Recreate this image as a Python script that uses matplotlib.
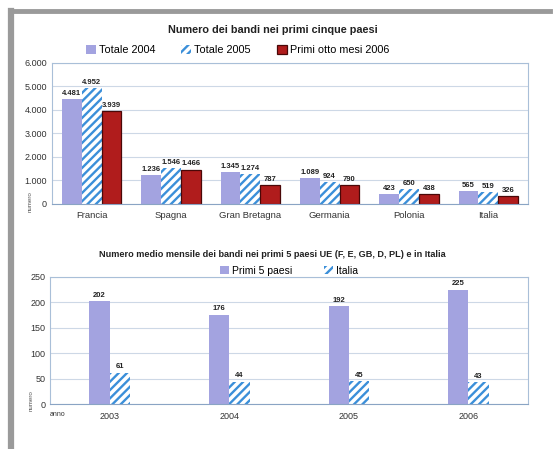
import matplotlib
matplotlib.use("Agg")
import matplotlib.pyplot as plt
from matplotlib.lines import Line2D
from matplotlib.ticker import FuncFormatter
import numpy as np

plt.rcParams["font.family"] = ["Liberation Sans", "DejaVu Sans"]
plt.rcParams["hatch.linewidth"] = 1.7

# ---------- data ----------
paesi = ["Francia", "Spagna", "Gran Bretagna", "Germania", "Polonia", "Italia"]
tot_2004 = [4481, 1236, 1345, 1089, 423, 565]
tot_2005 = [4952, 1546, 1274, 924, 650, 519]
otto_mesi_2006 = [3939, 1466, 787, 790, 438, 326]

anni = ["2003", "2004", "2005", "2006"]
primi_5 = [202, 176, 192, 225]
italia = [61, 44, 45, 43]

LAV = "#a3a3e0"
BLUE = "#3b8fd9"
RED = "#b01c1c"
GRID = "#cdd8e6"
BOX = "#a9bfd8"


def ita(v, _pos=None):
    return f"{v:,.0f}".replace(",", ".")


def style_axes(ax):
    ax.set_facecolor("white")
    ax.yaxis.grid(True, color=GRID, linewidth=0.8)
    ax.set_axisbelow(True)
    for s in ax.spines.values():
        s.set_color(BOX)
        s.set_linewidth(0.8)
    ax.spines["bottom"].set_color("#8aa4c4")
    ax.tick_params(axis="both", length=0, labelsize=6.5, colors="#333333")


fig = plt.figure(figsize=(5.56, 4.49), dpi=100)
fig.patch.set_facecolor("white")

# outer frame: top and left only
fig.lines.append(Line2D([10 / 556, 550 / 556], [1 - 11 / 449] * 2,
                        transform=fig.transFigure, color="#9a9a9a", linewidth=3.5))
fig.lines.append(Line2D([11 / 556] * 2, [0, 1 - 11 / 449],
                        transform=fig.transFigure, color="#9a9a9a", linewidth=4.5))

# ---------- top chart ----------
ax1 = fig.add_axes([0.0935, 0.5457, 0.856, 0.314])
style_axes(ax1)
x = np.arange(len(paesi))
w = 0.25
b1 = ax1.bar(x - w, tot_2004, w, color=LAV, linewidth=0, label="Totale 2004")
b2 = ax1.bar(x, tot_2005, w, color="white", edgecolor=BLUE, hatch="////",
             linewidth=0, label="Totale 2005")
b3 = ax1.bar(x + w, otto_mesi_2006, w, color=RED, edgecolor="#4a0808",
             linewidth=0.9, label="Primi otto mesi 2006")
for bars in (b1, b2, b3):
    for r in bars:
        ax1.text(r.get_x() + r.get_width() / 2, r.get_height() + 90,
                 ita(r.get_height()), ha="center", va="bottom",
                 fontsize=5.5, fontweight="bold", color="#222222")
ax1.set_xlim(-0.5, len(paesi) - 0.5)
ax1.set_ylim(0, 6000)
ax1.set_yticks(range(0, 6001, 1000))
ax1.yaxis.set_major_formatter(FuncFormatter(ita))
ax1.set_xticks(x)
ax1.set_xticklabels(paesi, fontsize=6.8)
ax1.tick_params(axis="x", pad=5)
ax1.set_ylabel("numero", fontsize=4.5, labelpad=2, color="#555555")
ax1.yaxis.set_label_coords(-0.04, 0.02)
ax1.legend(loc="lower center", bbox_to_anchor=(0.39, 1.02), ncol=3, frameon=False,
           fontsize=7.8, handlelength=0.9, handleheight=0.9, handletextpad=0.3,
           columnspacing=2.4, borderaxespad=0.1)
fig.text(0.49, 0.933, "Numero dei bandi nei primi cinque paesi", ha="center",
         va="center", fontsize=7.8, fontweight="bold", color="#222222")

# ---------- bottom chart ----------
ax2 = fig.add_axes([0.09, 0.1002, 0.86, 0.283])
style_axes(ax2)
x2 = np.arange(len(anni))
w2 = 0.17
c1 = ax2.bar(x2 - w2 / 2, primi_5, w2, color=LAV, linewidth=0, label="Primi 5 paesi")
c2 = ax2.bar(x2 + w2 / 2, italia, w2, color="white", edgecolor=BLUE, hatch="////",
             linewidth=0, label="Italia")
for bars in (c1, c2):
    for r in bars:
        ax2.text(r.get_x() + r.get_width() / 2, r.get_height() + 5,
                 f"{r.get_height():.0f}", ha="center", va="bottom",
                 fontsize=5.5, fontweight="bold", color="#222222")
ax2.set_xlim(-0.5, len(anni) - 0.5)
ax2.set_ylim(0, 250)
ax2.set_yticks(range(0, 251, 50))
ax2.set_xticks(x2)
ax2.set_xticklabels(anni, fontsize=6.5)
ax2.tick_params(axis="x", pad=6)
ax2.set_ylabel("numero", fontsize=4.5, labelpad=2, color="#555555")
ax2.yaxis.set_label_coords(-0.035, 0.03)
ax2.text(0.0, -0.085, "anno", transform=ax2.transAxes, fontsize=5,
         ha="left", va="center", color="#333333")
ax2.legend(loc="lower center", bbox_to_anchor=(0.5, 0.97), ncol=2, frameon=False,
           fontsize=7.5, handlelength=0.9, handleheight=0.9, handletextpad=0.3,
           columnspacing=3.0, borderaxespad=0.1)
fig.text(0.49, 0.434,
         "Numero medio mensile dei bandi nei primi 5 paesi UE (F, E, GB, D, PL) e in Italia",
         ha="center", va="center", fontsize=6.6, fontweight="bold", color="#222222")

fig.savefig("out.png", dpi=100, facecolor="white")
